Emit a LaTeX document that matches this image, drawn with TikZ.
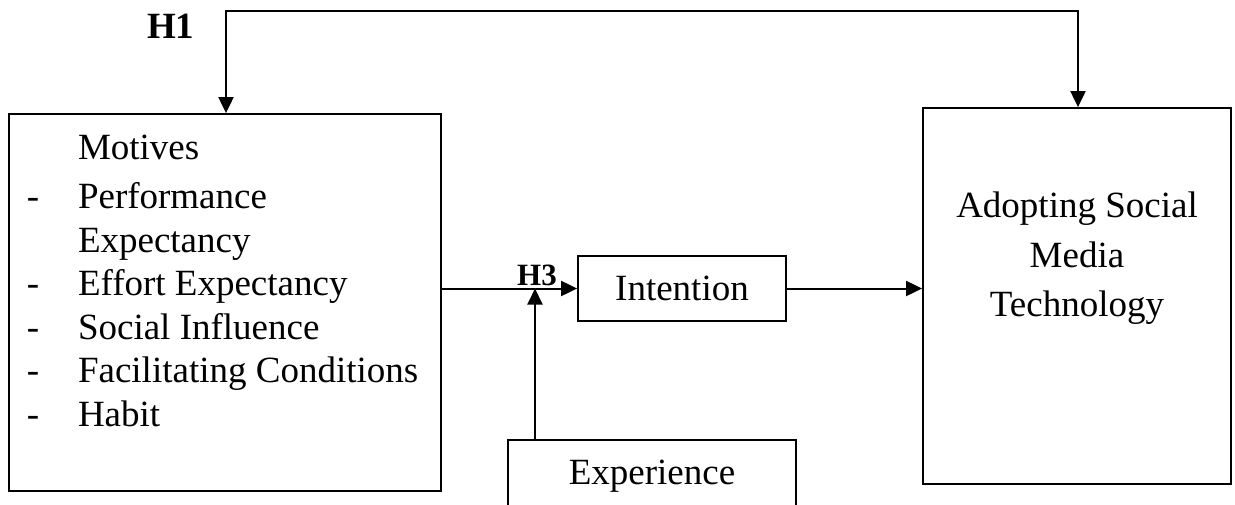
\documentclass[tikz,border=0pt]{standalone}
\usepackage{fontspec}
\setmainfont{Liberation Serif}
\usetikzlibrary{arrows.meta}
\tikzset{
  box/.style={draw, line width=1.8pt, rectangle, inner sep=0pt},
  txt/.style={inner sep=0pt, outer sep=0pt, anchor=base west, font=\fontsize{37}{44}\selectfont},
  ctxt/.style={inner sep=0pt, outer sep=0pt, anchor=base, font=\fontsize{37}{44}\selectfont},
  conn/.style={line width=2pt},
  arr/.style={conn, -{Triangle[width=15pt,length=16pt]}},
  barr/.style={conn, {Triangle[width=15pt,length=16pt]}-{Triangle[width=15pt,length=16pt]}},
  hyp/.style={inner sep=0pt, anchor=base west, font=\bfseries\fontsize{37}{44}\selectfont}
}
\begin{document}
\begin{tikzpicture}[x=1pt,y=-1pt]
\useasboundingbox[fill=white] (0,0) rectangle (1235,504);
% boxes
\node[box, minimum width=432pt, minimum height=377pt] (motives) at (225,302.5) {};
\node[box, minimum width=308pt, minimum height=376pt] (adopt) at (1077,296) {};
\node[box, minimum width=208pt, minimum height=65pt, font=\fontsize{37}{44}\selectfont] (intention) at (682,288.5) {Intention};
\node[box, minimum width=288pt, minimum height=72pt, font=\fontsize{37}{44}\selectfont] (experience) at (652,476) {Experience};
% motives text
\node[txt] (tmot) at (78,159) {Motives};
\node[txt] (d1) at (27,208) {-};
\node[txt] (t1) at (78,208) {Performance};
\node[txt] (t1b) at (78,252) {Expectancy};
\node[txt] (d2) at (27,295) {-};
\node[txt] (t2) at (78,295) {Effort Expectancy};
\node[txt] (d3) at (27,339) {-};
\node[txt] (t3) at (78,339) {Social Influence};
\node[txt] (d4) at (27,382) {-};
\node[txt] (t4) at (78,382) {Facilitating Conditions};
\node[txt] (d5) at (27,426) {-};
\node[txt] (t5) at (78,426) {Habit};
% adopting text
\node[ctxt] (a1) at (1077,217) {Adopting Social};
\node[ctxt] (a2) at (1077,267) {Media};
\node[ctxt] (a3) at (1077,316) {Technology};
% hypothesis labels
\node[hyp] (h1) at (147,38) {H1};
\node[hyp, font=\bfseries\fontsize{31}{36}\selectfont] (h3) at (517,285) {H3};
% connectors
\coordinate (h1l) at (226,11);
\coordinate (h1r) at (1078,11);
\draw[barr] (motives.north -| h1l) -- (h1l) -- (h1r) -- (adopt.north -| h1r);
\draw[arr] (intention.west -| motives.east) -- (intention.west);
\coordinate (junc) at (535,288.5);
\draw[arr] (experience.north -| junc) -- (junc);
\draw[arr] (intention.east) -- (intention.east -| adopt.west);
\end{tikzpicture}
\end{document}
